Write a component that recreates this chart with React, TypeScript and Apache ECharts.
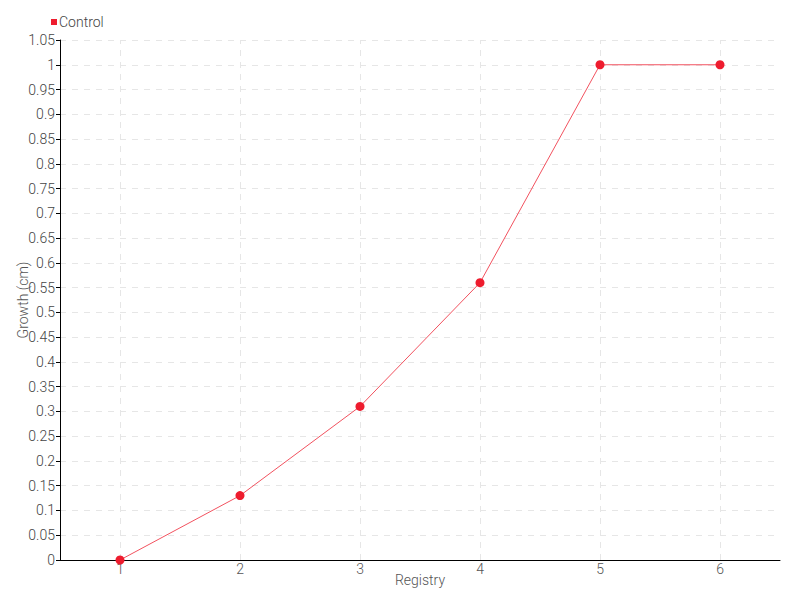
import React, { useEffect, useRef } from "react";
import * as echarts from "echarts";

const categories = ["1", "2", "3", "4", "5", "6"];
const controlValues = [0, 0.13, 0.31, 0.56, 1, 1];
const seriesName = "Control";
const xName = "Registry";
const yName = "Growth (cm)";

const FONT = "Roboto";

export default function App() {
  const ref = useRef<HTMLDivElement>(null);
  useEffect(() => {
    if (!ref.current) return;
    const chart = echarts.init(ref.current, null, { renderer: "svg" });
    chart.setOption({
      animation: false,
      textStyle: { fontFamily: FONT, fontWeight: 300 },
      legend: {
        left: 46,
        top: 10,
        itemWidth: 6,
        itemHeight: 6,
        itemGap: 4,
        icon: "rect",
        textStyle: { fontFamily: FONT, fontWeight: 300, fontSize: 14, color: "#444", padding: [0, 0, 0, -3] },
        data: [seriesName],
      },
      grid: { left: 60, right: 20, top: 40, bottom: 40, containLabel: false, outerBoundsMode: "none" },
      xAxis: {
        type: "category",
        data: categories,
        boundaryGap: true,
        name: xName,
        nameLocation: "middle",
        nameGap: 13,
        nameMoveOverlap: false,
        nameTextStyle: { fontFamily: FONT, fontWeight: 300, fontSize: 14, color: "#555" },
        axisLine: { lineStyle: { color: "#000", width: 1 } },
        axisTick: { alignWithLabel: true, length: 4, lineStyle: { color: "#000" } },
        axisLabel: { fontFamily: FONT, fontWeight: 300, fontSize: 14, color: "#555", margin: 2 },
        splitLine: { show: false },
      },
      yAxis: {
        type: "value",
        min: 0,
        max: 1.05,
        interval: 0.05,
        name: yName,
        nameLocation: "middle",
        nameGap: 30,
        nameMoveOverlap: false,
        nameTextStyle: { fontFamily: FONT, fontWeight: 300, fontSize: 14, color: "#555" },
        axisLine: { show: true, lineStyle: { color: "#000", width: 1 } },
        axisTick: { show: true, length: 4, lineStyle: { color: "#000" } },
        axisLabel: {
          fontFamily: FONT,
          fontWeight: 300,
          fontSize: 14,
          color: "#444",
          margin: 5,
          formatter: (v: number) => String(parseFloat(v.toFixed(2))),
        },
        splitLine: { show: true, lineStyle: { color: "#e6e6e6", type: [6, 6], width: 1 } },
      },
      series: [
        {
          name: seriesName,
          type: "line",
          data: controlValues,
          symbol: "circle",
          symbolSize: 9,
          itemStyle: { color: "#ee1c2e" },
          lineStyle: { color: "#f2525f", width: 1 },
          markLine: {
            silent: true,
            symbol: "none",
            label: { show: false },
            lineStyle: { color: "#e6e6e6", type: [6, 6], width: 1 },
            data: categories.map((c) => ({ xAxis: c })),
            z: 0,
          },
        },
      ],
    });
    return () => chart.dispose();
  }, []);
  return (
    <div
      ref={ref}
      style={{ position: "absolute", left: 0, top: 0, width: 800, height: 600 }}
    />
  );
}
